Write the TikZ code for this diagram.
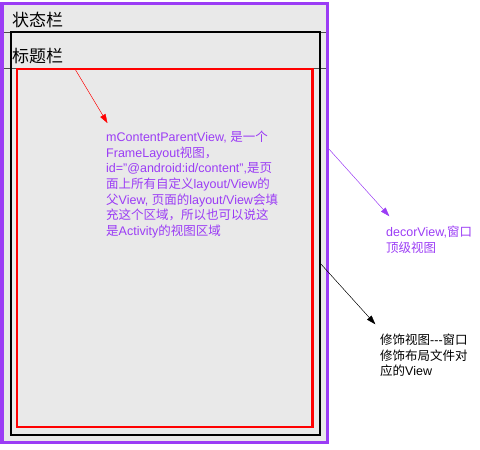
\documentclass[tikz,border=0pt]{standalone}
\usepackage{fontspec}
\setmainfont{Liberation Sans}
\newfontfamily\cjk{Noto Sans CJK SC}
\usetikzlibrary{arrows.meta}
\definecolor{decorpurple}{RGB}{155,60,245}
\definecolor{areagray}{RGB}{233,233,233}
\begin{document}
\begin{tikzpicture}[x=1pt,y=-1pt]
        \tikzstyle{bar}=[anchor=west,inner sep=0pt,font=\fontsize{17}{20}\selectfont\cjk]
        \tikzstyle{note}=[anchor=north west,inner sep=0pt,align=left,font=\fontsize{12.5}{15.6}\selectfont]
        \tikzstyle{pointer}=[-{Triangle[length=9pt,width=6pt]},shorten >=1pt]
        \useasboundingbox (0,0) rectangle (480,450);
        % decorView
        \fill[areagray] (2,3) rectangle (327,442);
        \draw[black!70] (2,32) -- (327,32);
        \draw[black!70] (2,68) -- (327,68);
        \draw[decorpurple,line width=3pt] (2,3) rectangle (327,442);
        % window frame and content area
        \draw[black,line width=2pt] (10.5,32) rectangle (319.5,435);
        \draw[red,line width=2.5pt] (17,69) rectangle (312.5,427);
        \node [bar] (status) at (12,20) {状态栏};
        \node [bar] (title) at (12,56) {标题栏};
        \node [note,text=decorpurple] (ctext) at (106,131) {mContentParentView, {\cjk 是一个}\\
          FrameLayout{\cjk 视图，}\\
          id="@android:id/content",{\cjk 是页}\\
          {\cjk 面上所有自定义}layout/View{\cjk 的}\\
          {\cjk 父}View, {\cjk 页面的}layout/View{\cjk 会填}\\
          {\cjk 充这个区域，所以也可以说这}\\
          {\cjk 是}Activity{\cjk 的视图区域}};
        \node [note,text=decorpurple] (dtext) at (386,226) {decorView,{\cjk 窗口}\\
          {\cjk 顶级视图}};
        \node [note,text=black] (wtext) at (380,334) {{\cjk 修饰视图}-{}-{}-{\cjk 窗口}\\
          {\cjk 修饰布局文件对}\\
          {\cjk 应的}View};
        \coordinate (c0) at (75,69);
        \coordinate (d0) at (328,148);
        \coordinate (w0) at (320,263);
        \path[pointer,draw=red,fill=red] (c0) -- ([xshift=2pt,yshift=7pt]ctext.north west);
        \path[pointer,draw=decorpurple,fill=decorpurple] (d0) -- ([xshift=4pt,yshift=9pt]dtext.north west);
        \path[pointer,draw=black,fill=black] (w0) -- ([xshift=-4pt,yshift=9pt]wtext.north west);
      \end{tikzpicture}
\end{document}
